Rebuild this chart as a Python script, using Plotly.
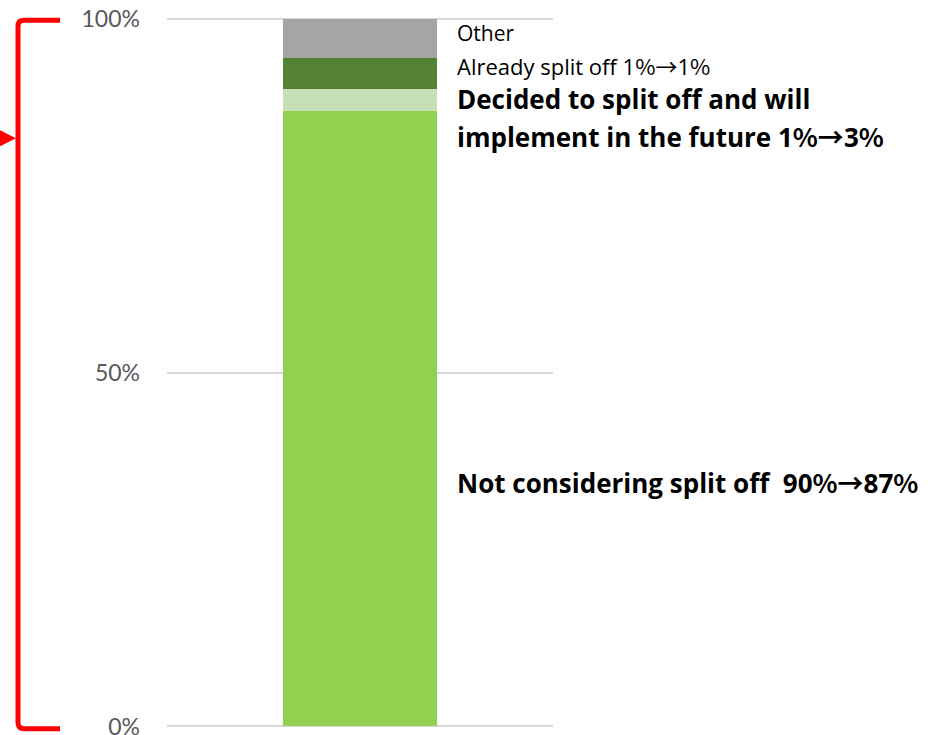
import plotly.graph_objects as go

# Share of respondents by stance on splitting off (single stacked column)
segments = ["Not considering split off", "Decided to split off and will implement in the future",
            "Already split off", "Other"]
shares = [87, 3, 4.4, 5.6]
colors = ["#92D050", "#C5E0B4", "#548235", "#A5A5A5"]
category = ["Survey"]

tick_values = [0, 50, 100]
tick_labels = ["0%", "50%", "100%"]

W, H = 950, 735
Y_PAD = 0.5                      # small range padding so the 0% / 100% gridlines are drawn
UNIT = 708.4 / 100               # pixels per percentage point
L, R = 167, 397
T = 18.3 - Y_PAD * UNIT
B = H - 726.7 - Y_PAD * UNIT
PW, PH = W - L - R, H - T - B


def px(x):
    return (x - L) / PW


def py(y):
    return (H - B - y) / PH


def sym(s):
    # percent signs and arrows are set in a CJK face
    return f"<span style=\"font-family:'Noto Sans CJK JP'\">{s}</span>"


fig = go.Figure()
for name, val, col in zip(segments, shares, colors):
    fig.add_trace(go.Bar(x=category, y=[val], name=name, marker=dict(color=col, line=dict(width=0)),
                         hoverinfo="name+y"))

tick_font = "Lato, 'Open Sans', sans-serif"
text_font = "'Open Sans', sans-serif"
labels = [
    dict(text="Other", y=97.9, size=21),
    dict(text="Already split off 1" + sym("%→") + "1" + sym("%"), y=93.5, size=22),
    dict(text="<b>Decided to split off and will</b>", y=88.6, size=26),
    dict(text="<b>implement in the future 1" + sym("%→") + "3" + sym("%") + "</b>", y=83.4, size=26),
    dict(text="<b>Not considering split off  90" + sym("%→") + "87" + sym("%") + "</b>", y=34.5, size=26),
]
for lab in labels:
    fig.add_annotation(text=lab["text"], xref="paper", x=px(455), yref="y", y=lab["y"],
                       xanchor="left", yanchor="middle", align="left", showarrow=False,
                       font=dict(family=text_font, size=lab["size"], color="#000000"))

# Red bracket spanning the whole column, with a pointer on the left
pts = [(60, 20), (24, 20), (18, 20), (18, 26), (18, 723), (18, 729), (24, 729), (60, 729)]
p = [(px(a), py(b)) for a, b in pts]
bracket = (f"M {p[0][0]},{p[0][1]} L {p[1][0]},{p[1][1]} Q {p[2][0]},{p[2][1]} {p[3][0]},{p[3][1]} "
           f"L {p[4][0]},{p[4][1]} Q {p[5][0]},{p[5][1]} {p[6][0]},{p[6][1]} L {p[7][0]},{p[7][1]}")
fig.add_shape(type="path", xref="paper", yref="paper", path=bracket,
              line=dict(color="#FF0000", width=5), layer="above")
tri = [(px(-2), py(129)), (px(16), py(138)), (px(-2), py(147))]
fig.add_shape(type="path", xref="paper", yref="paper",
              path=f"M {tri[0][0]},{tri[0][1]} L {tri[1][0]},{tri[1][1]} L {tri[2][0]},{tri[2][1]} Z",
              fillcolor="#FF0000", line=dict(color="#FF0000", width=0), layer="above")

fig.update_layout(
    width=W, height=H,
    margin=dict(l=L, r=R, t=T, b=B, pad=0, autoexpand=False),
    barmode="stack", bargap=0.6,
    showlegend=False,
    plot_bgcolor="white", paper_bgcolor="white",
    xaxis=dict(showticklabels=False, showgrid=False, zeroline=False, showline=False,
               fixedrange=True, automargin=False),
    yaxis=dict(range=[-Y_PAD, 100 + Y_PAD], tickvals=tick_values, ticktext=tick_labels,
               showgrid=True, gridcolor="#D9D9D9", gridwidth=2, zeroline=False, showline=False,
               ticks="", ticklabelstandoff=26, automargin=False, ticklabeloverflow="allow",
               tickfont=dict(family=tick_font, size=23, color="#595959")),
)

fig.write_html("out.html")
